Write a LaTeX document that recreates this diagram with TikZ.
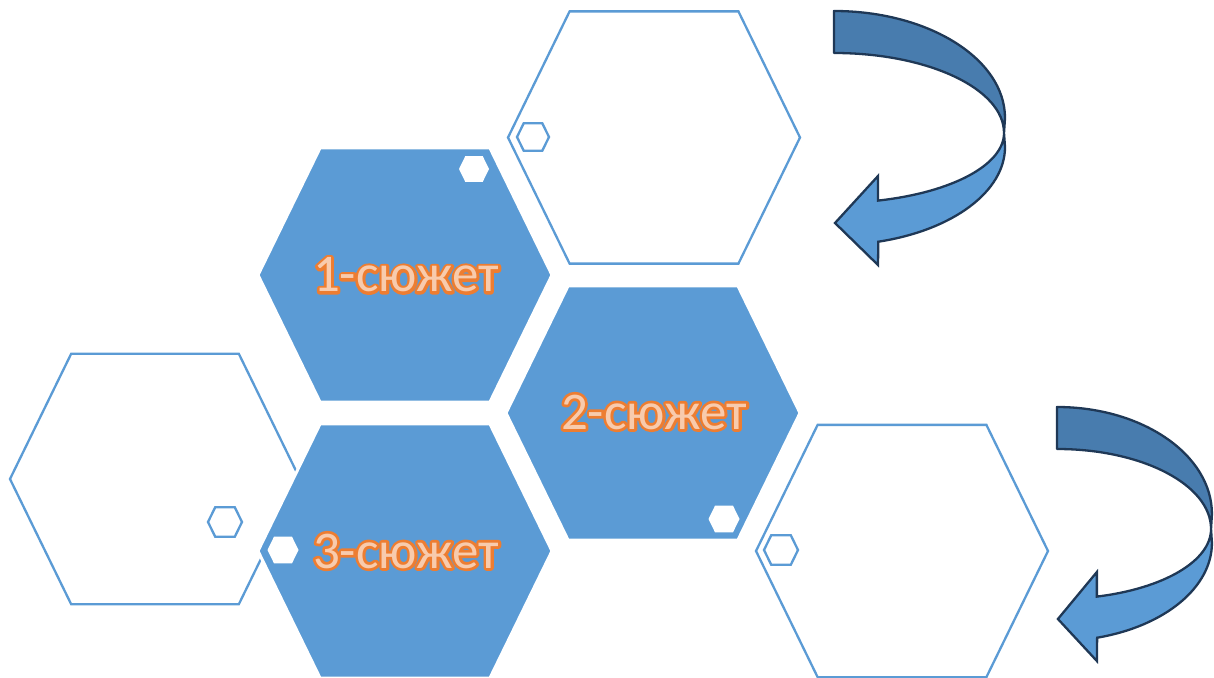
\documentclass[tikz,border=0pt]{standalone}
\usepackage{fontspec}
\setmainfont{Carlito}
\definecolor{hexblue}{HTML}{5B9BD5}
\definecolor{darkband}{RGB}{72,124,174}
\definecolor{arrowline}{RGB}{31,56,86}
\definecolor{peach}{HTML}{F8CBAD}
\definecolor{orangeline}{HTML}{ED7D31}
\tikzset{
  hexoutline/.style={draw=hexblue, line width=2.3pt, fill=white, line join=miter},
  hexfilled/.style={draw=white, line width=3pt, fill=hexblue},
  smallout/.style={draw=hexblue, line width=2.3pt, fill=white},
  smallfill/.style={fill=white, draw=none},
  storylabel/.style={font=\fontsize{53}{60}\selectfont, inner sep=0pt},
  bandA/.style={fill=darkband, draw=arrowline, line width=2.3pt, line join=round},
  bandB/.style={fill=hexblue, draw=arrowline, line width=2.3pt, line join=miter},
}
\newcommand\hexshape[4][]{%
  \path[#1, shift={(#2,#3)}] (#4,0) -- ({0.578*#4},{0.864*#4}) -- ({-0.578*#4},{0.864*#4})
   -- (-#4,0) -- ({-0.578*#4},{-0.864*#4}) -- ({0.578*#4},{-0.864*#4}) -- cycle;}
\newcommand\ortext[1]{%
  \rlap{\color{orangeline}\special{pdf:literal direct 2 Tr 5.5 w 0.929 0.490 0.192 RG 1 j}#1\special{pdf:literal direct 0 Tr}}%
  {\color{peach}#1}}
\newcommand\curvedarrow{%
  \path[bandA] (0,0) .. controls (94.4,0) and (171,47.9) .. (171,107) -- (170,122)
     .. controls (170,77.8) and (94,42) .. (0,42) -- cycle;
  \path[bandB] (170,122) .. controls (170,153.7) and (118.3,181.4) .. (44,189.6)
     -- (44,165) -- (1,212) -- (44,254) -- (44.3,230.7)
     .. controls (119,219.2) and (171,180.3) .. (171,136) -- cycle;}
\begin{document}
\begin{tikzpicture}[x=1pt,y=-1pt]
\useasboundingbox (0,0) rectangle (1214,677);
% outlined hexagons
\hexshape[hexoutline]{654}{137.5}{146}
\hexshape[hexoutline]{155}{479}{145}
\hexshape[hexoutline]{902}{551}{146}
% filled hexagons
\hexshape[hexfilled]{405}{275}{147}
\hexshape[hexfilled]{653}{413}{147}
\hexshape[hexfilled]{405}{551}{147}
% small hexagons
\hexshape[smallfill]{474}{169}{15}
\hexshape[smallout]{533}{137}{16}
\hexshape[smallout]{225}{522}{17}
\hexshape[smallfill]{283}{550}{15.5}
\hexshape[smallfill]{724}{519}{15.5}
\hexshape[smallout]{781}{550}{17}
% labels
\node[storylabel] (t1) at (406,275) {\ortext{1-сюжет}};
\node[storylabel] (t2) at (654,412) {\ortext{2-сюжет}};
\node[storylabel] (t3) at (406,551) {\ortext{3-сюжет}};
% curved arrows
\begin{scope}[shift={(834,11)}]
  \curvedarrow
\end{scope}
\begin{scope}[shift={(1057,407)}, xscale=0.906]
  \curvedarrow
\end{scope}
\end{tikzpicture}
\end{document}
